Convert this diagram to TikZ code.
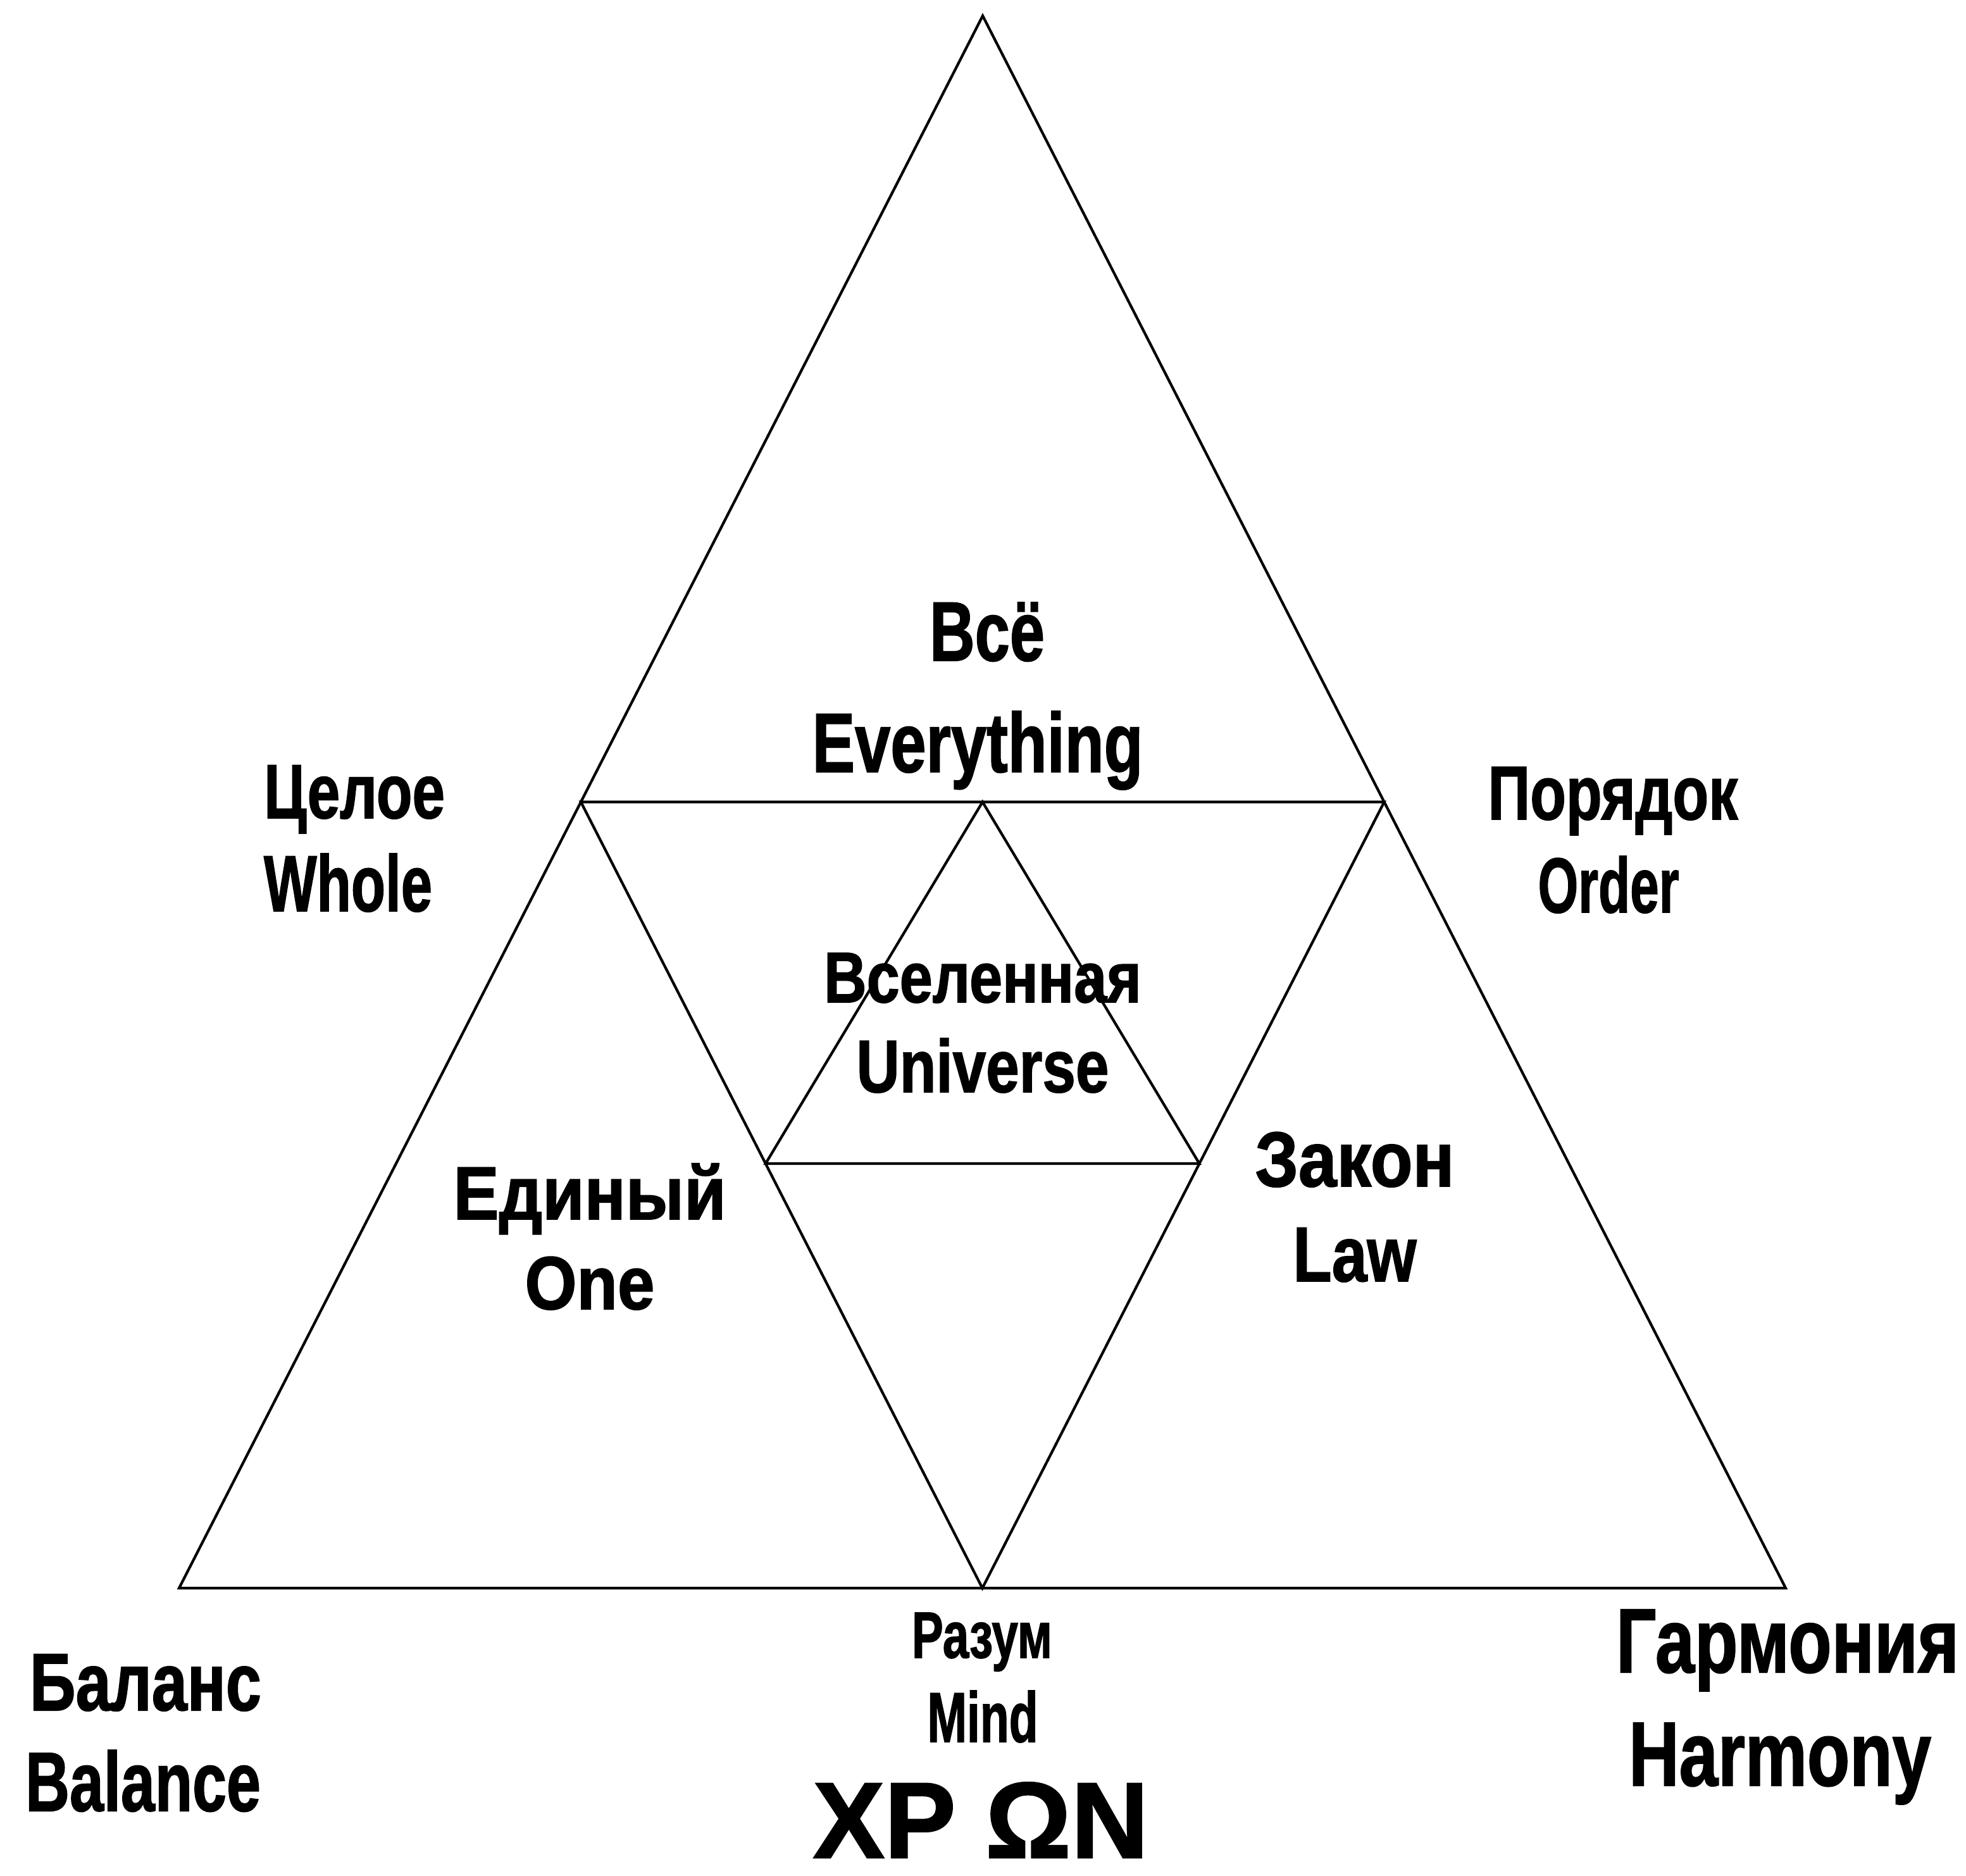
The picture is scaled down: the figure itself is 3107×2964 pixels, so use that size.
\documentclass[tikz,border=0pt]{standalone}
\usepackage{fontspec}
\setmainfont{Liberation Sans}[BoldFeatures={FakeBold=1.5}]
\usetikzlibrary{calc}
\newdimen\lblwd
% #1 cap height, #2 width (both in px of the drawing), #3 text
\newcommand\lbl[3]{%
  \fontsize{\fpeval{#1*0.3974}}{\fpeval{#1*0.5}}\selectfont\bfseries
  \settowidth\lblwd{#3}%
  \edef\lblsx{\fpeval{#2*0.28453/(\the\lblwd)}}%
  \scalebox{\lblsx}[1]{#3}}

\begin{document}
\begin{tikzpicture}[x=0.1mm,y=-0.1mm,line join=miter,
    tri/.style={draw=black,line width=0.42mm},
    lab/.style={inner sep=0pt,anchor=base}]
  \useasboundingbox (0,0) rectangle (3107,2964);
  % corners of the big triangle
  \coordinate (top) at (1553,25);
  \coordinate (bl) at (283,2510);
  \coordinate (br) at (2822,2510);
  \coordinate (ml) at ($(bl)!0.5!(top)$);
  \coordinate (mr) at ($(br)!0.5!(top)$);
  \coordinate (mb) at ($(bl)!0.5!(br)$);
  \coordinate (it) at ($(ml)!0.5!(mr)$);
  \coordinate (il) at ($(ml)!0.46!(mb)$);
  \coordinate (ir) at ($(mr)!0.46!(mb)$);
  \draw[tri] (top) -- (bl) -- (br) -- cycle;
  \draw[tri] (ml) -- (mr) -- (mb) -- cycle;
  \draw[tri] (it) -- (il) -- (ir) -- cycle;
  % words
  \node[lab] (vse) at (1560,1044) {\lbl{95}{182}{Всё}};
  \node[lab] (everything) at (1545,1220) {\lbl{95}{523}{Everything}};
  \node[lab] (tseloe) at (560,1293) {\lbl{87}{286}{Целое}};
  \node[lab] (whole) at (550,1440) {\lbl{90}{266}{Whole}};
  \node[lab] (poryadok) at (2549,1295) {\lbl{86}{395}{Порядок}};
  \node[lab] (order) at (2542,1442) {\lbl{88}{223}{Order}};
  \node[lab] (vselennaya) at (1553,1584) {\lbl{81}{502}{Вселенная}};
  \node[lab] (universe) at (1553,1726) {\lbl{84}{399}{Universe}};
  \node[lab] (ediny) at (932,1927) {\lbl{85}{431}{Единый}};
  \node[lab] (one) at (932,2069) {\lbl{85}{205}{One}};
  \node[lab] (zakon) at (2141,1875) {\lbl{88}{315}{Закон}};
  \node[lab] (law) at (2141,2025) {\lbl{88}{195}{Law}};
  \node[lab] (razum) at (1552,2620) {\lbl{74}{222}{Разум}};
  \node[lab] (mind) at (1553,2753) {\lbl{80}{175}{Mind}};
  \node[lab] (chron) at (1550,2936) {\lbl{122}{530}{XP ΩN}};
  \node[lab] (balans) at (230,2703) {\lbl{92}{366}{Баланс}};
  \node[lab] (balance) at (226,2862) {\lbl{95}{372}{Balance}};
  \node[lab] (garmoniya) at (2825,2643) {\lbl{103}{542}{Гармония}};
  \node[lab] (harmony) at (2813,2822) {\lbl{103}{478}{Harmony}};
\end{tikzpicture}
\end{document}
